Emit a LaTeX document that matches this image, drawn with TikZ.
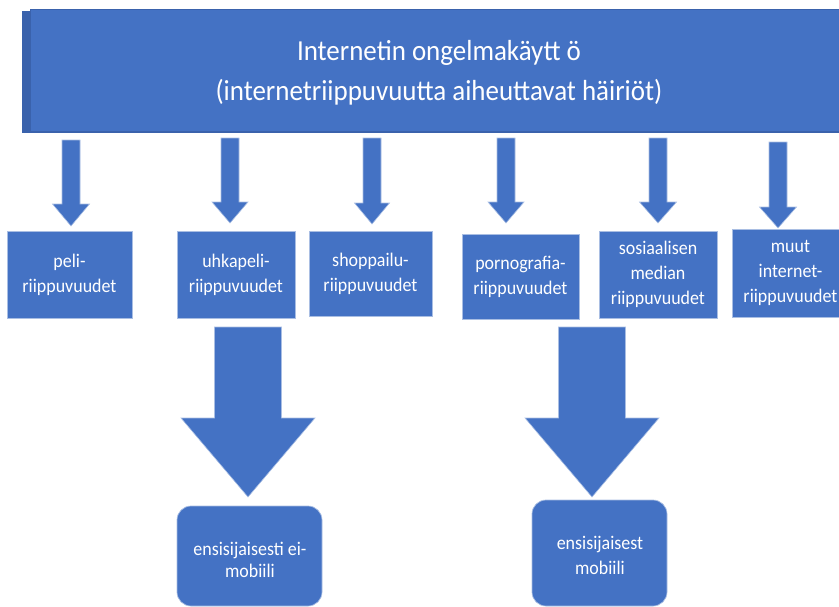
\documentclass[tikz,border=0pt]{standalone}
\usepackage{fontspec}
\setmainfont[FakeStretch=0.93]{Carlito}
\definecolor{obl}{HTML}{4472C4}
\definecolor{obd}{HTML}{3A62AC}
\definecolor{obe}{HTML}{A9BEE3}
\newcommand\barrow[6]{\draw[arr] ({#1-#5},#2) -- ({#1+#5},#2) -- ({#1+#5},#3) -- ({#1+#6},#3) -- (#1,#4) -- ({#1-#6},#3) -- ({#1-#5},#3) -- cycle;}
\begin{document}
\begin{tikzpicture}[x=1pt,y=-1pt,
  arr/.style={fill=obl,draw=obe,line width=0.6pt,line join=miter},
  boxs/.style={fill=obl,draw=obe,line width=0.7pt,text=white,align=center,
    font=\fontsize{19.3}{25}\selectfont,inner sep=0pt},
  bigbox/.style={fill=obl,draw=obe,line width=0.7pt,rounded corners=14pt},
  lbl/.style={text=white,align=center,inner sep=0pt}]
\useasboundingbox (0,0) rectangle (839,606);
\clip (0,0) rectangle (839,606);
% top box
\fill[obd] (22,11) rectangle (850,133);
\draw[fill=obl,draw=obd,line width=0.8pt] (30,9) rectangle (850,131);
\node[lbl,font=\fontsize{29}{40}\selectfont] (title) at (439,73)
  {Internetin ongelmakäytt ö\\(internetriippuvuutta aiheuttavat häiriöt)};
% small arrows
\barrow{71}{140}{204}{226}{9}{18.5}
\barrow{230}{138}{202}{223}{9}{18}
\barrow{372}{138}{203}{224}{9}{17.5}
\barrow{506}{138}{202}{223}{9}{18}
\barrow{658}{138}{202}{223}{9}{18.5}
\barrow{778}{142}{207}{228}{9}{18.5}
% category boxes
\node[boxs,minimum width=125pt,minimum height=87pt] (b1) at (69.5,274.5) {peli-\\riippuvuudet};
\node[boxs,minimum width=118pt,minimum height=87pt] (b2) at (236,274.5) {uhkapeli-\\riippuvuudet};
\node[boxs,minimum width=123pt,minimum height=85pt] (b3) at (370.5,273.5) {shoppailu-\\riippuvuudet};
\node[boxs,minimum width=117pt,minimum height=85pt] (b4) at (520.5,276.5) {pornografia-\\riippuvuudet};
\node[boxs,minimum width=118pt,minimum height=87pt] (b5) at (658,274.5) {sosiaalisen\\median\\riippuvuudet};
\node[boxs,minimum width=117pt,minimum height=88pt] (b6) at (790.5,273) {muut\\internet-\\riippuvuudet};
% big arrows
\barrow{248}{327}{418}{497}{33.5}{67}
\barrow{592}{327}{418}{497}{33.5}{67}
% bottom rounded boxes
\draw[bigbox] (177,506) rectangle (322,606);
\node[lbl,font=\fontsize{19.3}{22}\selectfont] (e1) at (250,560) {ensisijaisesti ei-\\mobiili};
\draw[bigbox] (532,500) rectangle (667,606);
\node[lbl,font=\fontsize{19.3}{25}\selectfont] (e2) at (600,555) {ensisijaisest\\mobiili};
\end{tikzpicture}
\end{document}
